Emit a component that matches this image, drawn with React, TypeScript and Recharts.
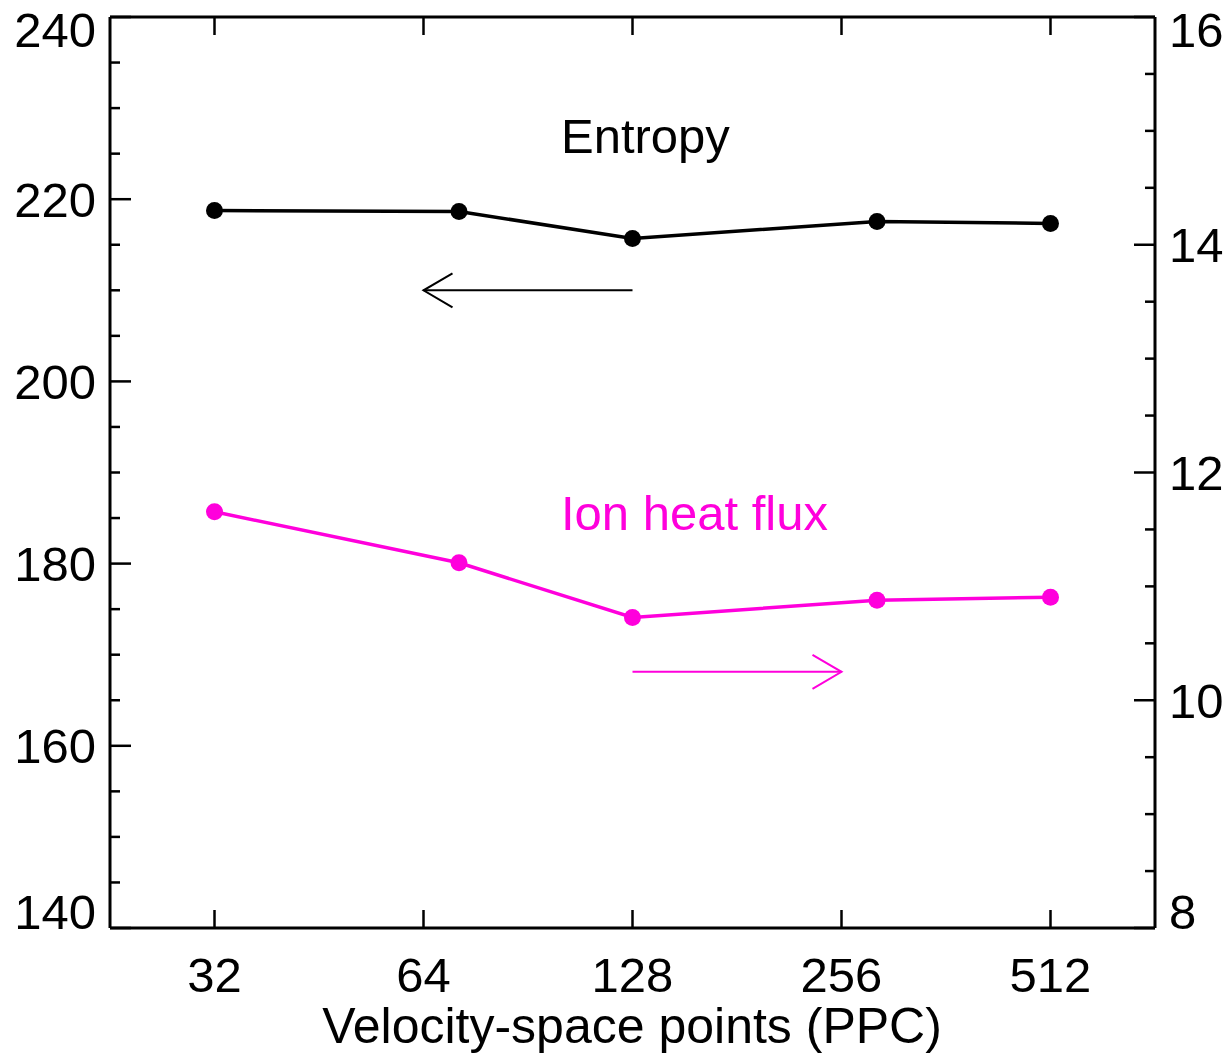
import { LineChart, Line, XAxis, YAxis, ReferenceLine, Customized } from "recharts";

const FONT = '"Liberation Sans", Arial, sans-serif';
const MAGENTA = "#ff00dc";
const FS = 49;

// velocity-space points per cell
const ppc = [32, 72, 128, 288, 512];
// left axis
const entropy = [218.76, 218.65, 215.69, 217.55, 217.34];
// right axis
const ionHeatFlux = [11.655, 11.207, 10.727, 10.879, 10.905];

const xTicks = [32, 64, 128, 256, 512];
const leftTicks = [140, 145, 150, 155, 160, 165, 170, 175, 180, 185, 190, 195, 200, 205, 210, 215, 220, 225, 230, 235, 240];
const rightTicks = [8, 8.5, 9, 9.5, 10, 10.5, 11, 11.5, 12, 12.5, 13, 13.5, 14, 14.5, 15, 15.5, 16];

const data = ppc.map((p, i) => ({ ppc: p, entropy: entropy[i], flux: ionHeatFlux[i] }));

function labelShift(v: number, lo: number, hi: number) {
  if (v === hi) return 30;
  if (v === lo) return 1;
  return 17.5;
}

const LeftTick = (props: any) => {
  const { x, y, payload } = props;
  const v = payload.value;
  const major = v % 20 === 0;
  return (
    <g>
      <line x1={x} y1={y} x2={x + (major ? 21 : 10)} y2={y} stroke="#000" strokeWidth={2.5} />
      {major && (
        <text x={x - 14} y={y + labelShift(v, 140, 240)} textAnchor="end" fontSize={FS} fontFamily={FONT} fill="#000">
          {v}
        </text>
      )}
    </g>
  );
};

const RightTick = (props: any) => {
  const { x, y, payload } = props;
  const v = payload.value;
  const major = v % 2 === 0;
  return (
    <g>
      <line x1={x} y1={y} x2={x - (major ? 21 : 10)} y2={y} stroke="#000" strokeWidth={2.5} />
      {major && (
        <text x={x + 14} y={y + labelShift(v, 8, 16)} textAnchor="start" fontSize={FS} fontFamily={FONT} fill="#000">
          {v}
        </text>
      )}
    </g>
  );
};

const BottomTick = (props: any) => {
  const { x, y, payload } = props;
  return (
    <g>
      <line x1={x} y1={y} x2={x} y2={y - 18} stroke="#000" strokeWidth={2.5} />
      <text x={x} y={y + 64} textAnchor="middle" fontSize={FS} fontFamily={FONT} fill="#000">
        {payload.value}
      </text>
    </g>
  );
};

const TopTick = (props: any) => {
  const { x, y } = props;
  return <line x1={x} y1={y} x2={x} y2={y + 18} stroke="#000" strokeWidth={2.5} />;
};

const arrow = (color: string) => (p: any) => {
  const { x1, y1, x2, y2 } = p;
  const dir = x2 > x1 ? 1 : -1;
  return (
    <g stroke={color} strokeWidth={2} fill="none">
      <line x1={x1} y1={y1} x2={x2} y2={y2} />
      <polyline points={`${x2 - dir * 29},${y2 - 17} ${x2},${y2} ${x2 - dir * 29},${y2 + 17}`} />
    </g>
  );
};

const Annotations = () => (
  <g fontFamily={FONT} fontSize={FS}>
    <text x={561} y={153} fill="#000">Entropy</text>
    <text x={561} y={530} fill={MAGENTA}>Ion heat flux</text>
    <text x={632} y={1043} textAnchor="middle" fontSize={50} fill="#000">Velocity-space points (PPC)</text>
  </g>
);

export default function App() {
  const axisLine = { stroke: "#000", strokeWidth: 3 };
  return (
    <div style={{ position: "absolute", left: 0, top: 0, background: "#fff" }}>
      <LineChart width={1230} height={1053} data={data} margin={{ top: 0, right: 0, bottom: 0, left: 0 }}>
        <XAxis
          xAxisId="bottom"
          dataKey="ppc"
          type="number"
          scale="log"
          domain={[32 / Math.SQRT2, 512 * Math.SQRT2]}
          allowDataOverflow
          ticks={xTicks}
          interval={0}
          height={125}
          tickSize={0}
          tickMargin={0}
          tickLine={false}
          axisLine={axisLine}
          tick={<BottomTick />}
        />
        <XAxis
          xAxisId="top"
          orientation="top"
          dataKey="ppc"
          type="number"
          scale="log"
          domain={[32 / Math.SQRT2, 512 * Math.SQRT2]}
          allowDataOverflow
          ticks={xTicks}
          interval={0}
          height={17}
          tickSize={0}
          tickMargin={0}
          tickLine={false}
          axisLine={axisLine}
          tick={<TopTick />}
        />
        <YAxis
          yAxisId="left"
          domain={[140, 240]}
          ticks={leftTicks}
          interval={0}
          width={110}
          tickSize={0}
          tickMargin={0}
          tickLine={false}
          axisLine={axisLine}
          tick={<LeftTick />}
        />
        <YAxis
          yAxisId="right"
          orientation="right"
          domain={[8, 16]}
          ticks={rightTicks}
          interval={0}
          width={75}
          tickSize={0}
          tickMargin={0}
          tickLine={false}
          axisLine={axisLine}
          tick={<RightTick />}
        />
        <ReferenceLine
          xAxisId="bottom"
          yAxisId="left"
          segment={[{ x: 128, y: 210 }, { x: 64, y: 210 }]}
          shape={arrow("#000")}
        />
        <ReferenceLine
          xAxisId="bottom"
          yAxisId="right"
          segment={[{ x: 128, y: 10.25 }, { x: 256, y: 10.25 }]}
          shape={arrow(MAGENTA)}
        />
        <Line
          xAxisId="bottom"
          yAxisId="left"
          type="linear"
          dataKey="entropy"
          stroke="#000"
          strokeWidth={3.5}
          dot={{ r: 8.5, fill: "#000", stroke: "none" }}
          isAnimationActive={false}
        />
        <Line
          xAxisId="bottom"
          yAxisId="right"
          type="linear"
          dataKey="flux"
          stroke={MAGENTA}
          strokeWidth={3.5}
          dot={{ r: 8.5, fill: MAGENTA, stroke: "none" }}
          isAnimationActive={false}
        />
        <Customized component={Annotations} />
      </LineChart>
    </div>
  );
}
